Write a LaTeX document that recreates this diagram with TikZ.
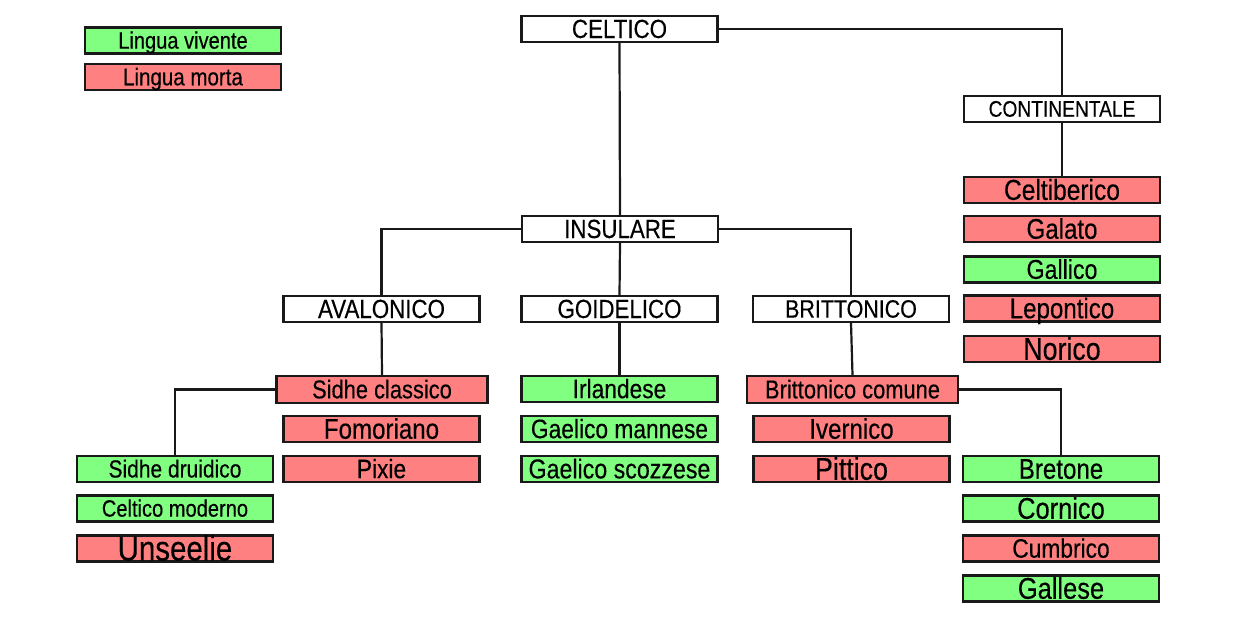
\documentclass[tikz,border=0pt]{standalone}
\usepackage{fontspec}
\setmainfont[FakeStretch=0.85,FakeBold=0.3]{Liberation Sans}
\definecolor{livegreen}{RGB}{128,255,128}
\definecolor{deadred}{RGB}{255,128,128}
\definecolor{edge}{RGB}{25,25,25}
\tikzset{
  box/.style={draw=edge, line width=2.2pt, minimum width=196pt, minimum height=26pt, inner sep=0pt, fill=white},
  widebox/.style={box, minimum width=211pt, minimum height=27pt},
  live/.style={box, fill=livegreen},
  dead/.style={box, fill=deadred},
  fsz/.style={/utils/exec={\pgfmathsetmacro\myfs{1.05*#1}}, font=\fontsize{\myfs pt}{\myfs pt}\selectfont, text height={0.72*#1pt}, text depth=0pt},
  conn/.style={draw=edge, line width=2.2pt}
}
\begin{document}
\begin{tikzpicture}[x=1pt,y=-1pt]
\useasboundingbox (0,0) rectangle (1238,619);
% legend
\node[live, fsz=22.5] (lv) at (183,40.5) {Lingua vivente};
\node[dead, fsz=23] (lm) at (183,77) {Lingua morta};
% top
\node[box, fsz=25] (celtico) at (619.5,29) {CELTICO};
\node[box, fsz=21.5] (continentale) at (1062,109) {CONTINENTALE};
\node[dead, fsz=27.5] (celtiberico) at (1062,190) {Celtiberico};
\node[dead, fsz=27] (galato) at (1062,229) {Galato};
\node[live, fsz=26] (gallico) at (1062,269.5) {Gallico};
\node[dead, fsz=27] (lepontico) at (1062,308.5) {Lepontico};
\node[dead, fsz=30] (norico) at (1062,349) {Norico};
\node[box, fsz=25] (insulare) at (620,229) {INSULARE};
\node[box, fsz=25] (avalonico) at (381.5,309) {AVALONICO};
\node[box, fsz=25] (goidelico) at (619.5,309) {GOIDELICO};
\node[box, fsz=24] (brittonico) at (851,309) {BRITTONICO};
% avalonico branch
\node[widebox, fill=deadred, fsz=24.5] (sidheclassico) at (382,389.5) {Sidhe classico};
\node[dead, fsz=27] (fomoriano) at (381.5,429) {Fomoriano};
\node[dead, fsz=25.5] (pixie) at (381.5,469) {Pixie};
\node[live, fsz=23.5] (sidhedruidico) at (175,469) {Sidhe druidico};
\node[live, fsz=22.5] (celticomoderno) at (175,508.5) {Celtico moderno};
\node[dead, fsz=33] (unseelie) at (175,548.5) {Unseelie};
% goidelico branch
\node[live, fsz=25.5] (irlandese) at (619.5,389) {Irlandese};
\node[live, fsz=25.5] (gaelicomannese) at (619.5,429) {Gaelico mannese};
\node[live, fsz=26] (gaelicoscozzese) at (619.5,469) {Gaelico scozzese};
% brittonico branch
\node[widebox, fill=deadred, fsz=24.5] (brittonicocomune) at (852.5,389.5) {Brittonico comune};
\node[dead, fsz=27] (ivernico) at (851.5,429) {Ivernico};
\node[dead, fsz=30] (pittico) at (851.5,469) {Pittico};
\node[live, fsz=27] (bretone) at (1061,469) {Bretone};
\node[live, fsz=28.5] (cornico) at (1061,508.5) {Cornico};
\node[dead, fsz=25.5] (cumbrico) at (1061,548.5) {Cumbrico};
\node[live, fsz=28.5] (gallese) at (1061,588.5) {Gallese};
% connectors
\draw[conn] (celtico.south) -- (insulare.north);
\draw[conn] (celtico.east) -| (continentale.north);
\draw[conn] (continentale.south) -- (celtiberico.north);
\draw[conn] (insulare.west) -| (avalonico.north);
\draw[conn] (insulare.south) -- (goidelico.north);
\draw[conn] (insulare.east) -| (brittonico.north);
\draw[conn] (avalonico.south) -- (sidheclassico.north);
\draw[conn] (sidheclassico.west) -| (sidhedruidico.north);
\draw[conn] (goidelico.south) -- (irlandese.north);
\draw[conn] (brittonico.south) -- (brittonicocomune.north);
\draw[conn] (brittonicocomune.east) -| (bretone.north);
\end{tikzpicture}
\end{document}
